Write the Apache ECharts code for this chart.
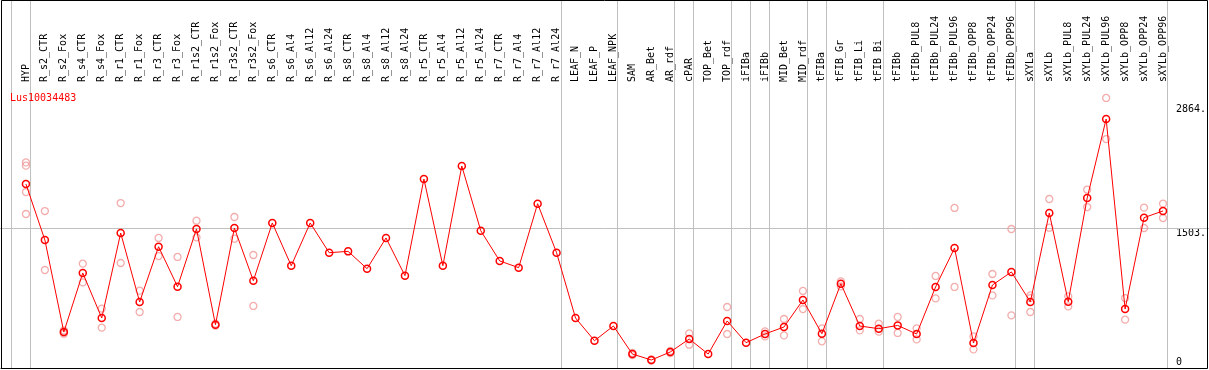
<!DOCTYPE html>
<html><head><meta charset="utf-8">
<script src="https://cdn.jsdelivr.net/npm/echarts@6/dist/echarts.min.js"></script>
<style>html,body{margin:0;padding:0;background:#fff}#c{width:1209px;height:370px}</style>
</head><body><div id="c"></div>
<script>
const chartTitle = 'Lus10034483';
const categories = ['HYP','R_s2_CTR','R_s2_Fox','R_s4_CTR','R_s4_Fox','R_r1_CTR','R_r1_Fox','R_r3_CTR','R_r3_Fox','R_r1s2_CTR','R_r1s2_Fox','R_r3s2_CTR','R_r3s2_Fox','R_s6_CTR','R_s6_Al4','R_s6_Al12','R_s6_Al24','R_s8_CTR','R_s8_Al4','R_s8_Al12','R_s8_Al24','R_r5_CTR','R_r5_Al4','R_r5_Al12','R_r5_Al24','R_r7_CTR','R_r7_Al4','R_r7_Al12','R_r7_Al24','LEAF_N','LEAF_P','LEAF_NPK','SAM','AR_Bet','AR_rdf','cPAR','TOP_Bet','TOP_rdf','iFIBa','iFIBb','MID_Bet','MID_rdf','tFIBa','tFIB_Gr','tFIB_Li','tFIB_Bi','tFIBb','tFIBb_PUL8','tFIBb_PUL24','tFIBb_PUL96','tFIBb_OPP8','tFIBb_OPP24','tFIBb_OPP96','sXYLa','sXYLb','sXYLb_PUL8','sXYLb_PUL24','sXYLb_PUL96','sXYLb_OPP8','sXYLb_OPP24','sXYLb_OPP96'];
const means = [1975,1374,386,1020,537,1449,709,1302,873,1492,465,1503,937,1557,1098,1557,1238,1252,1066,1396,991,2029,1098,2168,1474,1149,1077,1764,1238,537,293,451,150,86,172,311,150,505,272,365,440,730,368,905,451,422,457,365,870,1288,268,891,1031,709,1664,712,1825,2673,633,1614,1686];
const replicates = [[2207,2172,1889,1653],[1685,1052],[404,368,382],[1120,919],[637,433],[1771,1127],[830,601],[1396,1202],[1192,548],[1581,1402],[475,455],[1621,1388],[1213,666],
[],[],[],[],[],[],[],[],[],[],[],[],[],[],[],[],[],[],[],
[162,138],[92,80],[183,160],[371,250],[],[655,365],[],[393,339],[526,350],[827,633],[425,286],[876,930],[526,404],[476,390],[548,376],[425,307],[988,747],[1718,870],[339,200],[1009,779],[1492,565],[779,750,601],[1814,1506],[769,661],[1914,1728],[2899,2458],[751,519],[1721,1503],[1764,1610]];
const yLabelValues = [1503, 2864];
const yZeroLabel = [0];
const gridLineValue = 1503;
const groupSeparators = [-1,0,28,31,34,35,37,38,39,41,42,45,52,53,60];

const chart = echarts.init(document.getElementById('c'), null, {renderer:'canvas'});
const FONT = 'DejaVu Sans Mono';
const repData = [];
replicates.forEach((arr, i) => arr.forEach(v => repData.push([i, v])));
const meanData = means.map((v, i) => [i, v]);
const xMin = -25/19, xMax = 1181/19;

chart.setOption({
  animation: false,
  backgroundColor: '#fff',
  title: {text: chartTitle, left: 10, top: 93, padding: 0,
    textStyle: {color: '#ff0000', fontSize: 10, fontWeight: 'normal', fontFamily: FONT}},
  grid: {left: 1, right: 2, top: 85, bottom: 2, containLabel: false},
  xAxis: {type: 'value', position: 'top', min: xMin, max: xMax,
    axisLine: {show: true, lineStyle: {color: '#000', width: 1}},
    axisTick: {show: false}, splitLine: {show: false},
    axisLabel: {customValues: categories.map((_, i) => i), formatter: v => categories[Math.round(v)] || '',
      rotate: 90, margin: 3, fontFamily: FONT, fontSize: 10, color: '#000'}},
  yAxis: [
    {type: 'value', position: 'right', min: 0, max: 3038,
      axisLine: {show: false}, axisTick: {show: false}, splitLine: {show: false},
      axisLabel: {customValues: yLabelValues, inside: true, align: 'left', verticalAlign: 'top', margin: 28,
        formatter: v => (v === 2864 ? '{a|' : '{b|') + v + '.}', fontFamily: FONT, fontSize: 10, color: '#000',
        rich: {a: {fontFamily: FONT, fontSize: 10, color: '#000', padding: [3,0,0,0]},
               b: {fontFamily: FONT, fontSize: 10, color: '#000'}}}},
    {type: 'value', position: 'right', min: 0, max: 3038,
      axisLine: {show: false}, axisTick: {show: false}, splitLine: {show: false},
      axisLabel: {customValues: yZeroLabel, inside: true, align: 'left', verticalAlign: 'bottom', margin: 28,
        formatter: v => String(v), fontFamily: FONT, fontSize: 10, color: '#000', padding: [0,0,1,0]}}
  ],
  series: [
    {type: 'scatter', z: 3, data: repData, symbol: 'circle', symbolSize: 7,
      itemStyle: {color: 'rgba(0,0,0,0)', borderColor: '#f09898', borderWidth: 1.3}},
    {type: 'line', z: 4, data: meanData, symbol: 'circle', symbolSize: 7, showAllSymbol: true,
      lineStyle: {color: '#ff0000', width: 1},
      itemStyle: {color: 'rgba(255,0,0,0)', borderColor: '#ff0000', borderWidth: 1.5}}
  ]
});

// reference lines placed through the chart's own axis scales
const gridBottom = 368;
const graphics = groupSeparators.map(s => {
  const x = Math.round(chart.convertToPixel({xAxisIndex: 0}, s)) + 4.5;
  return {type: 'line', z: 1, silent: true, shape: {x1: x, y1: 0, x2: x, y2: gridBottom},
    style: {stroke: '#c0c0c0', lineWidth: 1}};
});
const gy = Math.round(chart.convertToPixel({yAxisIndex: 0}, gridLineValue)) + 0.5;
graphics.push({type: 'line', z: 1, silent: true, shape: {x1: 0, y1: gy, x2: 1209, y2: gy},
  style: {stroke: '#c0c0c0', lineWidth: 1}});
graphics.push({type: 'rect', z: 100, silent: true, shape: {x: 1.5, y: 0.5, width: 1206, height: 368},
  style: {fill: null, stroke: '#000', lineWidth: 1}});
chart.setOption({graphic: graphics});
</script></body></html>
